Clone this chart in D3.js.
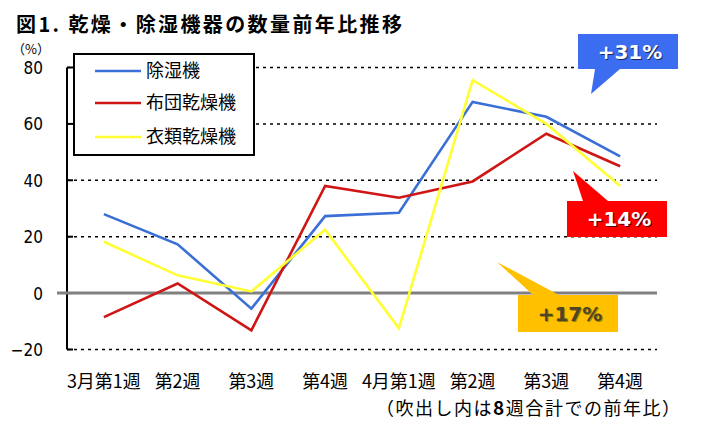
<!DOCTYPE html>
<html><head><meta charset="utf-8">
<script src="https://cdn.jsdelivr.net/npm/d3@7/dist/d3.min.js"></script>
<style>
html,body{margin:0;padding:0;background:#fff;}
svg text{font-family:"Noto Sans CJK JP","Noto Sans",sans-serif;}
</style></head>
<body><svg id="c" width="723" height="426"></svg>
<script>
const categories = ["3月第1週","第2週","第3週","第4週","4月第1週","第2週","第3週","第4週"];
const seriesNames = ["除湿機","布団乾燥機","衣類乾燥機"];
const dehumidifier = [28, 17.3, -5.5, 27.3, 28.5, 67.8, 62.5, 48.5];
const futonDryer   = [-8.5, 3.4, -13.2, 38, 33.8, 39.6, 56.5, 45];
const clothesDryer = [18.2, 6.3, 0.6, 22.5, -12.5, 75.5, 60, 38];
const yTicks = [-20, 0, 20, 40, 60, 80];
const callouts = [
  {label:"+31%", series:0},
  {label:"+14%", series:1},
  {label:"+17%", series:2}
];
const title = "図1. 乾燥・除湿機器の数量前年比推移";
const unit = "（%）";
const note = ["（吹出し内は","8","週合計での前年比）"];

const colors = ["#3a6fd6","#d01515","#ffff33"];
const svg = d3.select("#c");

const x = d3.scaleBand().domain(d3.range(categories.length)).range([67, 657]).padding(0);
const y = d3.scaleLinear().domain([-20, 80]).range([349.5, 67.5]);
const cx = i => x(i) + x.bandwidth()/2;

// title
svg.append("text").attr("x",16).attr("y",32).attr("font-size",20).attr("font-weight","bold")
  .attr("textLength",386).attr("lengthAdjust","spacing").attr("fill","#000").text(title);
svg.append("text").attr("x",12).attr("y",54).attr("font-size",13).attr("fill","#000")
  .attr("textLength",38).attr("lengthAdjust","spacingAndGlyphs").text(unit);

// gridlines
const grid = svg.append("g");
yTicks.filter(t=>t!==0).forEach(t=>{
  grid.append("line").attr("x1",67).attr("x2",657).attr("y1",y(t)).attr("y2",y(t))
    .attr("stroke","#000").attr("stroke-width",1.5).attr("stroke-dasharray","3,4");
});

// y axis
const yAxis = d3.axisLeft(y).tickValues(yTicks).tickSize(0).tickPadding(0);
const ga = svg.append("g").attr("transform","translate(67,0)").call(yAxis);
ga.select(".domain").remove();
ga.selectAll("text").attr("x",-24).attr("dy","0.35em").attr("font-size",17).attr("fill","#000")
  .style("font-family","'Liberation Sans Narrow','DejaVu Sans Condensed','Noto Sans',sans-serif")
  .attr("text-anchor","end");
svg.append("line").attr("x1",67).attr("x2",67).attr("y1",y(80)).attr("y2",y(-20)).attr("stroke","#000").attr("stroke-width",2);
yTicks.forEach(t=>{
  svg.append("line").attr("x1",67).attr("x2",73).attr("y1",y(t)).attr("y2",y(t)).attr("stroke","#000").attr("stroke-width",2);
});

// zero line
svg.append("line").attr("x1",57).attr("x2",657).attr("y1",y(0)).attr("y2",y(0))
  .attr("stroke","#808080").attr("stroke-width",3);

// x labels
categories.forEach((c,i)=>{
  svg.append("text").attr("x",cx(i)).attr("y",388).attr("text-anchor","middle")
    .attr("font-size",18).attr("fill","#000").text(c);
});

// lines
const line = d3.line().x((d,i)=>cx(i)).y(d=>y(d));
[dehumidifier, futonDryer, clothesDryer].forEach((s,k)=>{
  svg.append("path").datum(s).attr("d",line).attr("fill","none")
    .attr("stroke",colors[k]).attr("stroke-width",2.6).attr("stroke-linejoin","miter");
});

// legend
const lg = svg.append("g");
lg.append("rect").attr("x",74).attr("y",54).attr("width",180).attr("height",101)
  .attr("fill","#fff").attr("stroke","#000").attr("stroke-width",2);
const ly = [71, 103, 137];
seriesNames.forEach((n,k)=>{
  lg.append("line").attr("x1",95).attr("x2",141).attr("y1",ly[k]).attr("y2",ly[k])
    .attr("stroke",colors[k]).attr("stroke-width",2.6);
  lg.append("text").attr("x",146).attr("y",ly[k]).attr("dy","0.36em").attr("font-size",18)
    .attr("fill","#000").text(n);
});

// callouts
const cdefs = [
  {rect:[578,34,100,35], tri:[[595,69],[620,69],[591,94]], fill:"#3c6cf0", text:"#fff", shadow:"#1a2a60"},
  {rect:[567,201,100,36], tri:[[583,201],[608,201],[573,171]], fill:"#ff0000", text:"#fff", shadow:"#600000"},
  {rect:[518,295,100,37], tri:[[533,295],[559,295],[497,262]], fill:"#ffc000", text:"#4d4526", shadow:"#a08000"}
];
callouts.forEach((c,i)=>{
  const d = cdefs[i];
  const g = svg.append("g");
  g.append("polygon").attr("points",d.tri.map(p=>p.join(",")).join(" ")).attr("fill",d.fill);
  g.append("rect").attr("x",d.rect[0]).attr("y",d.rect[1]).attr("width",d.rect[2]).attr("height",d.rect[3]).attr("fill",d.fill);
  const tx = d.rect[0]+d.rect[2]/2+2, ty = d.rect[1]+d.rect[3]/2;
  g.append("text").attr("x",tx+1).attr("y",ty+1).attr("dy","0.36em").attr("text-anchor","middle")
    .attr("font-size",20).attr("font-weight","bold").attr("fill",d.shadow)
    .style("font-family","Verdana,'DejaVu Sans',sans-serif").text(c.label);
  g.append("text").attr("x",tx).attr("y",ty).attr("dy","0.36em").attr("text-anchor","middle")
    .attr("font-size",20).attr("font-weight","bold").attr("fill",d.text)
    .style("font-family","Verdana,'DejaVu Sans',sans-serif").text(c.label);
});

// note
const nt = svg.append("text").attr("x",376).attr("y",415).attr("font-size",18).attr("fill","#000")
  .attr("textLength",304).attr("lengthAdjust","spacing");
nt.append("tspan").text(note[0]);
nt.append("tspan").attr("font-weight","bold").attr("font-size",19).text(note[1]);
nt.append("tspan").text(note[2]);
</script></body></html>
